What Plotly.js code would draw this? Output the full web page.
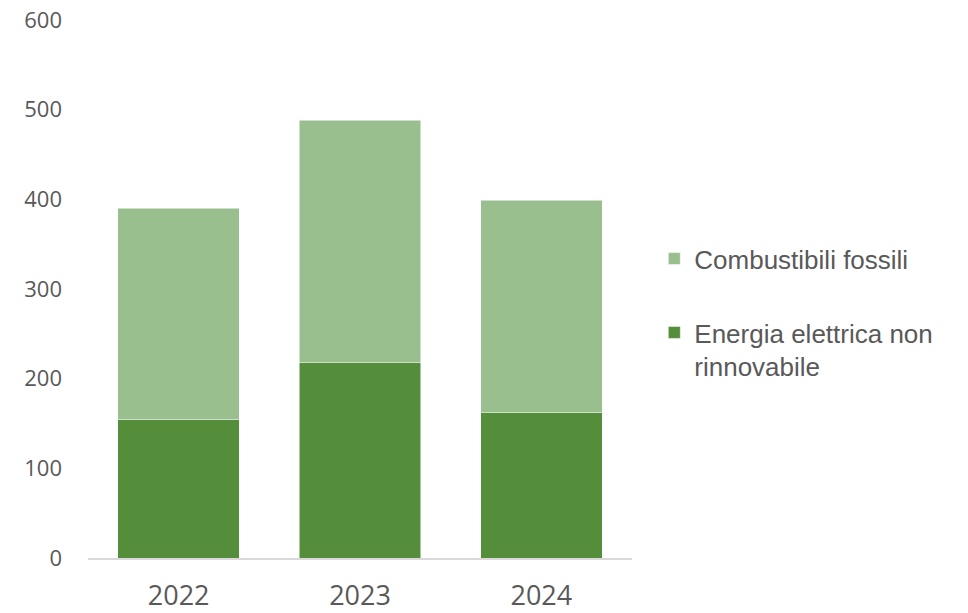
<!DOCTYPE html>
<html>
<head>
<meta charset="utf-8">
<script src="https://cdn.plot.ly/plotly-3.0.1.min.js"></script>
<style>html,body{margin:0;padding:0;background:#fff;}#chart{width:968px;height:613px;}</style>
</head>
<body>
<div id="chart"></div>
<script>
const years = ['2022', '2023', '2024'];
const energiaElettrica = [154, 218, 162];
const combustibiliFossili = [236, 270, 237];
const yTicks = [0, 100, 200, 300, 400, 500, 600];

const traces = [
  {
    type: 'bar', name: 'Energia elettrica non<br>rinnovabile', legendgroup: 'a', legendrank: 2,
    x: years, y: energiaElettrica,
    marker: {color: '#548E3A', line: {color: '#ffffff', width: 0.5}},
    hoverinfo: 'none'
  },
  {
    type: 'bar', name: 'Combustibili fossili', legendgroup: 'b', legendrank: 1,
    x: years, y: combustibiliFossili,
    marker: {color: '#9ABF8E', line: {color: '#ffffff', width: 0.5}},
    hoverinfo: 'none'
  }
];

const layout = {
  width: 968, height: 613,
  margin: {l: 88, r: 336, t: 20, b: 55},
  barmode: 'stack',
  bargap: 0.33,
  paper_bgcolor: '#ffffff',
  plot_bgcolor: '#ffffff',
  font: {family: 'Liberation Sans, Arial, sans-serif', color: '#595959'},
  xaxis: {
    type: 'category',
    showline: true, linecolor: '#D9D9D9', linewidth: 1.5,
    showgrid: false, zeroline: false,
    ticks: '', ticklabelstandoff: 13,
    tickfont: {family: 'Open Sans, sans-serif', size: 27, color: '#595959'}
  },
  yaxis: {
    range: [0, 600], tickvals: yTicks,
    showgrid: false, zeroline: false, showline: false,
    ticks: '', ticklabelstandoff: 25,
    tickfont: {family: 'Open Sans, sans-serif', size: 22, color: '#595959'}
  },
  showlegend: true,
  legend: {
    x: 1.041, xanchor: 'left', y: 0.60, yanchor: 'top',
    traceorder: 'grouped', valign: 'top',
    tracegroupgap: 37, itemwidth: 30,
    font: {family: 'Liberation Sans, Arial, sans-serif', size: 26, color: '#595959'}
  }
};

Plotly.newPlot('chart', traces, layout, {displayModeBar: false, staticPlot: true});
</script>
</body>
</html>
